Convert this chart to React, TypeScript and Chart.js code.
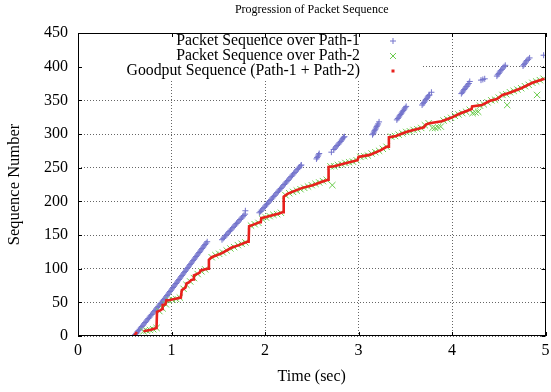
import React, { useEffect, useRef } from "react";
import { Chart, registerables } from "chart.js";

Chart.register(...registerables);

// Packet sequence numbers seen on path 1 (time in seconds, sequence number)
const path1Time = [
  0.6, 0.612, 0.624, 0.635, 0.647, 0.659, 0.671, 0.682, 0.694, 0.706, 0.718, 0.729,
  0.741, 0.753, 0.765, 0.776, 0.788, 0.8, 0.812, 0.824, 0.835, 0.847, 0.859, 0.871,
  0.882, 0.894, 0.906, 0.918, 0.929, 0.941, 0.952, 0.962, 0.973, 0.984, 0.995, 1.006,
  1.016, 1.027, 1.038, 1.049, 1.059, 1.07, 1.081, 1.092, 1.102, 1.113, 1.124, 1.134,
  1.145, 1.156, 1.167, 1.177, 1.188, 1.199, 1.21, 1.22, 1.231, 1.242, 1.253, 1.263,
  1.274, 1.285, 1.296, 1.306, 1.317, 1.328, 1.339, 1.349, 1.36, 1.371, 1.382,
  1.54, 1.553, 1.566, 1.579, 1.592, 1.605, 1.618, 1.631, 1.644, 1.657, 1.67, 1.683,
  1.696, 1.709, 1.722, 1.735, 1.748, 1.761, 1.774, 1.787, 1.79,
  1.94, 1.953, 1.965, 1.978, 1.991, 2.003, 2.016, 2.029, 2.041, 2.054, 2.067, 2.079,
  2.092, 2.105, 2.117, 2.13, 2.143, 2.155, 2.168, 2.18, 2.193, 2.206, 2.218, 2.231,
  2.244, 2.256, 2.269, 2.282, 2.294, 2.307, 2.319, 2.332, 2.345, 2.357, 2.37, 2.383, 2.389,
  2.55, 2.557, 2.565, 2.572, 2.58,
  2.71, 2.735, 2.748, 2.76, 2.772, 2.785, 2.797, 2.81, 2.82, 2.83, 2.84, 2.85,
  3.15, 3.158, 3.165, 3.172, 3.18, 3.188, 3.195, 3.202, 3.21, 3.22,
  3.41, 3.42, 3.43, 3.44, 3.45, 3.46, 3.47, 3.48, 3.49, 3.5, 3.51,
  3.68, 3.69, 3.7, 3.71, 3.72, 3.73, 3.74, 3.75, 3.76, 3.78,
  4.1, 4.11, 4.12, 4.13, 4.14, 4.15, 4.16, 4.17, 4.18, 4.19,
  4.31, 4.33, 4.35,
  4.48, 4.49, 4.5, 4.51, 4.52, 4.533, 4.545, 4.557, 4.57,
  4.76, 4.77, 4.78, 4.79, 4.8, 4.815, 4.83,
  4.98,
];
const path1Seq = [
  0, 2, 4, 6, 8, 10, 12, 14, 16, 18, 20, 22,
  24, 26, 28, 30, 32, 34, 36, 38, 40, 42, 44, 46,
  48, 50, 52, 54, 56, 58, 60, 62, 64, 66, 68, 70,
  72, 74, 76, 78, 80, 82, 84, 86, 88, 90, 92, 94,
  96, 98, 100, 102, 104, 106, 108, 110, 112, 114, 116, 118,
  120, 122, 124, 126, 128, 130, 132, 134, 136, 138, 140,
  143, 145, 147, 149, 151, 153, 155, 157, 159, 161, 163, 165,
  167, 169, 171, 173, 175, 177, 179, 181, 186,
  183, 185, 187, 189, 191, 193, 195, 197, 199, 201, 203, 205,
  207, 209, 211, 213, 215, 217, 219, 221, 223, 225, 227, 229,
  231, 233, 235, 237, 239, 241, 243, 245, 247, 249, 251, 253, 254,
  263, 265, 267, 269, 271,
  273, 277, 279, 281, 283, 285, 287, 289, 291, 293, 295, 296,
  299, 301, 303, 305, 307, 309, 311, 313, 315, 318,
  321, 323, 325, 327, 329, 331, 333, 335, 337, 339, 341,
  343, 345, 347, 349, 351, 353, 355, 357, 358, 362,
  360, 362, 364, 366, 368, 370, 371, 373, 375, 378,
  380, 381, 382,
  386, 388, 390, 392, 394, 396, 398, 400, 402,
  401, 403, 405, 407, 409, 411, 413,
  417,
];

// Packet sequence numbers seen on path 2
const path2Time = [
  0.7, 0.735, 0.77, 0.805, 0.84,
  0.87, 0.905, 0.94,
  0.97, 1.01, 1.05, 1.09,
  1.13, 1.16, 1.2, 1.24, 1.28, 1.32, 1.36,
  1.43, 1.47, 1.51, 1.55, 1.59, 1.63, 1.67, 1.71, 1.75, 1.79,
  1.85, 1.89, 1.93, 1.97, 2.01, 2.05, 2.09, 2.13, 2.17,
  2.22, 2.26, 2.3, 2.34, 2.38, 2.42, 2.46, 2.5, 2.54, 2.58, 2.62, 2.66,
  2.72,
  2.7, 2.74, 2.78, 2.82, 2.86, 2.9, 2.94, 2.98, 3.02, 3.06, 3.1, 3.14, 3.18, 3.22, 3.26, 3.3,
  3.35, 3.39, 3.43, 3.47, 3.51, 3.55, 3.59, 3.63, 3.67, 3.71, 3.75,
  3.79, 3.82, 3.85, 3.88,
  3.91, 3.95, 3.99, 4.03, 4.07, 4.11, 4.15, 4.19,
  4.22, 4.25, 4.28,
  4.3, 4.34, 4.38, 4.42, 4.46, 4.5, 4.54, 4.58, 4.62, 4.66, 4.7, 4.74, 4.78, 4.82, 4.86, 4.9, 4.94, 4.98,
  4.59, 4.91,
];
const path2Seq = [
  7, 8, 9, 10, 12,
  37, 41, 47,
  53, 54, 55, 57,
  70, 76, 81, 86, 92, 96, 99,
  117, 120, 122, 124, 127, 130, 132, 135, 137, 139,
  164, 166, 168, 174, 176, 178, 180, 181, 183,
  209, 212, 214, 216, 218, 220, 222, 224, 226, 228, 230, 232,
  224,
  252, 252, 254, 255, 257, 258, 259, 261, 266, 267, 268, 271, 273, 275, 278, 281,
  296, 297, 299, 301, 303, 304, 306, 307, 309, 313, 316,
  309, 309, 310, 311,
  320, 322, 324, 327, 329, 331, 333, 336,
  331, 332, 333,
  342, 344, 347, 350, 351, 354, 358, 359, 362, 364, 366, 368, 371, 373, 376, 378, 380, 382,
  343, 358,
];

// In-order goodput sequence over both paths (null marks a break in the trace)
const goodputTime = [
  0.6, 0.615, 0.63, 0.65,
  0.7, 0.77, 0.84, 0.845, 0.88, 0.9, 0.905, 0.935, 0.945, 0.97, 1.03, 1.1, 1.11,
  1.13, 1.15, 1.16, 1.19, 1.21, 1.23, 1.24, 1.27, 1.3, 1.31, 1.36, 1.395, 1.4,
  1.43, 1.54, 1.64, 1.72, 1.81, 1.825, 1.83, 1.87, 1.94, 1.955, 1.96, 2.02, 2.15,
  2.195, 2.2, 2.24, 2.29, 2.4, 2.51, 2.61, 2.675, 2.68, 2.74, 2.87, 2.99, 3.0,
  3.12, 3.24, 3.3, 3.32, 3.325, 3.4, 3.51, 3.62, 3.7, 3.72, 3.76, 3.89, 3.99,
  4.08, 4.19, 4.21, 4.215, 4.32, 4.4, 4.48, 4.54, 4.61, 4.74, 4.86, 4.99,
];
const goodputSeq = [
  0, 3, 6, null,
  7, 9, 12, 36, 38, 40, 46, 47, 53, 53, 55, 57, 68,
  70, 72, 78, 80, 83, 84, 90, 92, 94, 97, 99, 100, 113,
  117, 123, 131, 135, 140, 140, 163, 165, 169, 169, 175, 177, 182,
  184, 207, 211, 214, 220, 224, 229, 232, 251, 252, 257, 261, 266,
  269, 276, 281, 281, 295, 297, 303, 307, 310, 314, 316, 319, 324,
  330, 336, 337, 341, 343, 349, 352, 358, 361, 368, 376, 382,
];

const xTickValues = [0, 1, 2, 3, 4, 5];
const yTickValues = [0, 50, 100, 150, 200, 250, 300, 350, 400, 450];

const seriesNames = [
  "Packet Sequence over Path-1",
  "Packet Sequence over Path-2",
  "Goodput Sequence (Path-1 + Path-2)",
];
const chartTitle = "Progression of Packet Sequence";
const xTitle = "Time (sec)";
const yTitle = "Sequence Number";

const BLUE = "#7474cc";
const GREEN = "#6acb4c";
const RED = "#e8201c";
const SERIF = "'Liberation Serif', 'Times New Roman', serif";

const toPoints = (xs: number[], ys: (number | null)[]) =>
  xs.map((x, i) => ({ x, y: ys[i] }));

// Key box in the top-left corner, border ticks on all four sides, and the text
const framePlugin = {
  id: "frame",
  beforeDatasetsDraw(chart: any) {
    const { ctx, chartArea } = chart;
    const xs = chart.scales.x;
    const ys = chart.scales.y;
    const keyRight = xs.getPixelForValue(3.68);
    const keyBottom = ys.getPixelForValue(380);
    ctx.save();
    ctx.fillStyle = "#ffffff";
    ctx.fillRect(chartArea.left + 1, chartArea.top + 1, keyRight - chartArea.left - 1, keyBottom - chartArea.top - 1);
    ctx.restore();
  },
  afterDraw(chart: any) {
    const { ctx, chartArea } = chart;
    const { left, right, top, bottom } = chartArea;
    const xs = chart.scales.x;
    const ys = chart.scales.y;
    ctx.save();
    ctx.strokeStyle = "#000";
    ctx.lineWidth = 1;
    ctx.strokeRect(Math.round(left) + 0.5, Math.round(top) + 0.5, Math.round(right - left) - 1, Math.round(bottom - top) - 1);
    const tick = 4;
    ctx.beginPath();
    xTickValues.forEach((v) => {
      const px = Math.round(xs.getPixelForValue(v)) + 0.5;
      ctx.moveTo(px, bottom);
      ctx.lineTo(px, bottom - tick);
      ctx.moveTo(px, top);
      ctx.lineTo(px, top + tick);
    });
    yTickValues.forEach((v) => {
      const py = Math.round(ys.getPixelForValue(v)) + 0.5;
      ctx.moveTo(left, py);
      ctx.lineTo(left + tick, py);
      ctx.moveTo(right, py);
      ctx.lineTo(right - tick, py);
    });
    ctx.stroke();

    ctx.fillStyle = "#000";
    const midX = (left + right) / 2;
    ctx.textAlign = "center";
    ctx.textBaseline = "middle";
    ctx.font = `12px ${SERIF}`;
    ctx.fillText(chartTitle, midX, 10);
    ctx.font = `16px ${SERIF}`;
    ctx.fillText(xTitle, midX, 377);
    ctx.save();
    ctx.translate(15, (top + bottom) / 2);
    ctx.rotate(-Math.PI / 2);
    ctx.font = `16.5px ${SERIF}`;
    ctx.fillText(yTitle, 0, 0);
    ctx.restore();

    // key entries: right-aligned text with the sample mark to its right
    const textRight = 360;
    const markX = 393;
    const rows = [41, 56, 71];
    ctx.font = `15.8px ${SERIF}`;
    ctx.textAlign = "right";
    seriesNames.forEach((name, i) => ctx.fillText(name, textRight, rows[i]));
    ctx.lineWidth = 1;
    ctx.strokeStyle = BLUE;
    ctx.beginPath();
    ctx.moveTo(markX - 3, rows[0]);
    ctx.lineTo(markX + 3, rows[0]);
    ctx.moveTo(markX, rows[0] - 3);
    ctx.lineTo(markX, rows[0] + 3);
    ctx.stroke();
    ctx.strokeStyle = GREEN;
    ctx.beginPath();
    ctx.moveTo(markX - 3, rows[1] - 3);
    ctx.lineTo(markX + 3, rows[1] + 3);
    ctx.moveTo(markX + 3, rows[1] - 3);
    ctx.lineTo(markX - 3, rows[1] + 3);
    ctx.stroke();
    ctx.fillStyle = RED;
    ctx.fillRect(markX - 1.5, rows[2] - 1.5, 3, 3);
    ctx.restore();
  },
};

export default function App() {
  const canvasRef = useRef<HTMLCanvasElement | null>(null);

  useEffect(() => {
    const canvas = canvasRef.current;
    if (!canvas) return;
    const gridColor = "rgba(0,0,0,0.6)";
    const chart = new Chart(canvas, {
      type: "scatter",
      data: {
        datasets: [
          {
            label: seriesNames[0],
            data: toPoints(path1Time, path1Seq),
            pointStyle: "cross",
            pointRadius: 3,
            borderWidth: 1,
            borderColor: BLUE,
            backgroundColor: BLUE,
            order: 3,
          },
          {
            label: seriesNames[1],
            data: toPoints(path2Time, path2Seq),
            pointStyle: "crossRot",
            pointRadius: 4.5,
            borderWidth: 1,
            borderColor: GREEN,
            backgroundColor: GREEN,
            order: 2,
          },
          {
            label: seriesNames[2],
            data: toPoints(goodputTime, goodputSeq),
            showLine: true,
            spanGaps: false,
            pointRadius: 0,
            borderWidth: 2.6,
            borderColor: RED,
            backgroundColor: RED,
            order: 1,
          },
        ],
      },
      options: {
        animation: false,
        responsive: false,
        devicePixelRatio: 1,
        layout: { padding: { top: 33, right: 4, left: 0, bottom: 0 } },
        plugins: {
          legend: { display: false },
          title: { display: false },
          tooltip: { enabled: false },
        },
        scales: {
          x: {
            type: "linear",
            min: 0,
            max: 5,
            ticks: {
              stepSize: 1,
              color: "#000",
              padding: 5,
              maxRotation: 0,
              font: { family: SERIF, size: 16 },
            },
            grid: { color: gridColor, lineWidth: 1, drawTicks: false },
            border: { display: false, dash: [1, 2] },
            afterFit: (s: any) => {
              s.height = 56;
              s.paddingLeft = 0;
              s.paddingRight = 0;
            },
          },
          y: {
            type: "linear",
            min: 0,
            max: 450,
            ticks: {
              stepSize: 50,
              color: "#000",
              padding: 10,
              font: { family: SERIF, size: 16 },
            },
            grid: { color: gridColor, lineWidth: 1, drawTicks: false },
            border: { display: false, dash: [1, 2] },
            afterFit: (s: any) => {
              s.width = 78;
              s.paddingTop = 0;
              s.paddingBottom = 0;
            },
          },
        },
      },
      plugins: [framePlugin],
    });
    return () => chart.destroy();
  }, []);

  return (
    <div style={{ position: "fixed", left: 0, top: 0, width: 551, height: 392, background: "#fff" }}>
      <canvas ref={canvasRef} width={551} height={392} style={{ width: 551, height: 392 }} />
    </div>
  );
}
